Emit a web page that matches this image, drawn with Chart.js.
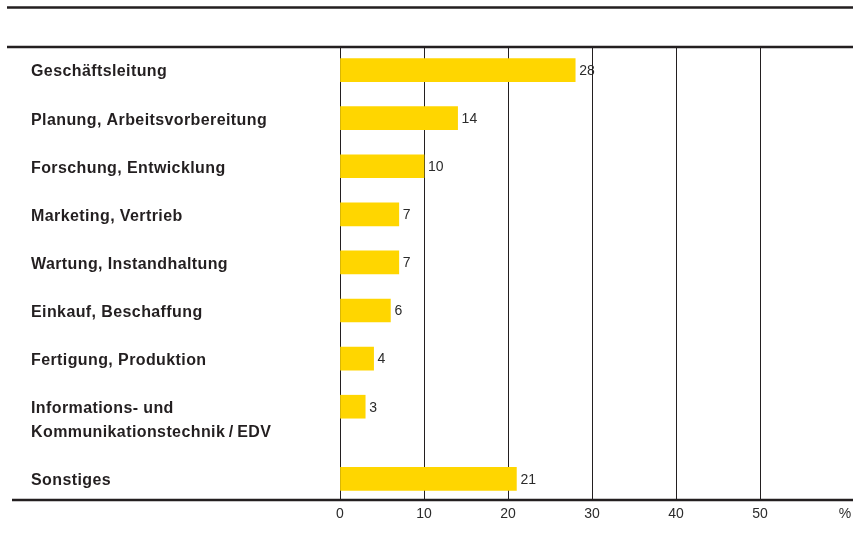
<!DOCTYPE html>
<html>
<head>
<meta charset="utf-8">
<script src="https://cdn.jsdelivr.net/npm/chart.js@4"></script>
<style>
  html, body { margin: 0; padding: 0; background: #fff; }
  #wrap { width: 853px; height: 543px; }
</style>
</head>
<body>
<div id="wrap"><canvas id="chart" width="853" height="543"></canvas></div>
<script>
// Bereiche (Zeilen mit mehrzeiligem Text als Array)
const categories = [
    ['Geschäftsleitung'],
    ['Planung, Arbeitsvorbereitung'],
    ['Forschung, Entwicklung'],
    ['Marketing, Vertrieb'],
    ['Wartung, Instandhaltung'],
    ['Einkauf, Beschaffung'],
    ['Fertigung, Produktion'],
    ['Informations- und', 'Kommunikationstechnik\u2009/\u2009EDV'],
    ['Sonstiges']
];
const values = [28, 14, 10, 7, 7, 6, 4, 3, 21];
const xTicks = [0, 10, 20, 30, 40, 50];
const unitLabel = '%';

const ink = '#231f20';
const yellow = '#ffd600';

// row positions follow the number of text lines of each label
const rowPos = [];
let acc = 0;
categories.forEach((lines) => {
    rowPos.push(acc);
    acc += 1 + 0.5 * (lines.length - 1);
});
const lastPos = rowPos[rowPos.length - 1];

const points = values.map((v, i) => ({ x: v, y: rowPos[i] }));

const decor = {
    id: 'decor',
    afterDraw(chart) {
        const ctx = chart.ctx;
        const area = chart.chartArea;
        const ys = chart.scales.y;
        const xs = chart.scales.x;
        ctx.save();

        // horizontal rules
        ctx.strokeStyle = ink;
        ctx.lineWidth = 2.5;
        ctx.beginPath();
        ctx.moveTo(7, 7.5); ctx.lineTo(chart.width, 7.5);
        ctx.moveTo(7, area.top); ctx.lineTo(chart.width, area.top);
        ctx.moveTo(12, area.bottom); ctx.lineTo(chart.width, area.bottom);
        ctx.stroke();

        // category labels
        ctx.fillStyle = ink;
        ctx.font = 'bold 16px "Liberation Sans", Arial, sans-serif';
        ctx.letterSpacing = '0.4px';
        ctx.textAlign = 'left';
        ctx.textBaseline = 'middle';
        categories.forEach((lines, i) => {
            const y = ys.getPixelForValue(rowPos[i]) + 2;
            lines.forEach((t, k) => ctx.fillText(t, 31, y + k * 24));
        });

        // value labels
        ctx.letterSpacing = '0px';
        ctx.font = '14px "Liberation Sans", Arial, sans-serif';
        ctx.fillStyle = '#2b2b2b';
        values.forEach((v, i) => {
            ctx.fillText(String(v), xs.getPixelForValue(v) + 4, ys.getPixelForValue(rowPos[i]) + 1);
        });

        // unit at the end of the x axis
        ctx.textAlign = 'center';
        ctx.fillText(unitLabel, xs.getPixelForValue(60) + 1, area.bottom + 14);
        ctx.restore();
    }
};

new Chart(document.getElementById('chart').getContext('2d'), {
    type: 'bar',
    data: {
        datasets: [{
            data: points,
            backgroundColor: yellow,
            barThickness: 23
        }]
    },
    options: {
        responsive: false,
        animation: false,
        indexAxis: 'y',
        layout: { padding: { top: 47, right: 0, left: 0, bottom: 0 } },
        plugins: {
            legend: { display: false },
            tooltip: { enabled: false }
        },
        scales: {
            x: {
                type: 'linear',
                min: 0,
                max: 61.07,
                afterBuildTicks: (scale) => {
                    scale.ticks = xTicks.map((v) => ({ value: v }));
                },
                afterFit: (scale) => { scale.height = 43; },
                border: { display: false },
                grid: {
                    drawTicks: false,
                    color: ink,
                    lineWidth: 1
                },
                ticks: {
                    autoSkip: false,
                    maxRotation: 0,
                    padding: 6,
                    color: '#2b2b2b',
                    font: { family: '"Liberation Sans", Arial, sans-serif', size: 14 }
                }
            },
            y: {
                type: 'linear',
                reverse: true,
                offset: false,
                min: -0.48,
                max: lastPos + 0.44,
                afterFit: (scale) => { scale.width = 340; },
                border: { display: false },
                grid: { display: false },
                ticks: { display: false }
            }
        }
    },
    plugins: [decor]
});
</script>
</body>
</html>
